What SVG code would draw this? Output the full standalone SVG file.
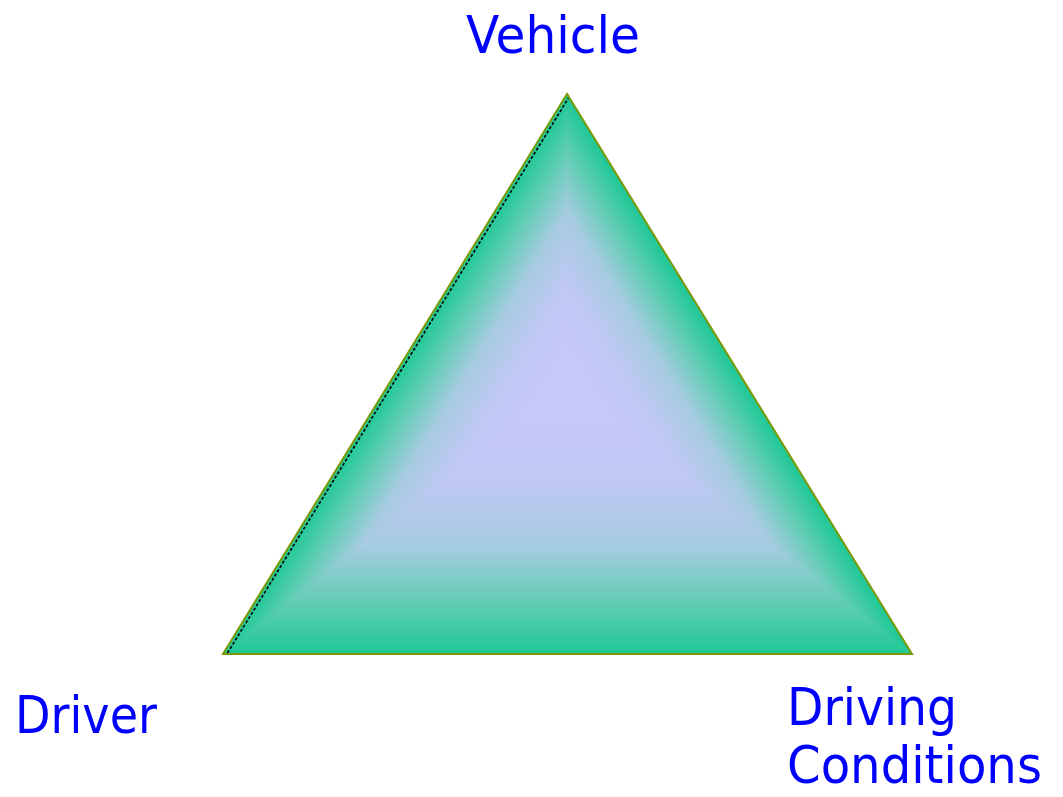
<svg xmlns="http://www.w3.org/2000/svg" width="1063" height="797" viewBox="0 0 1063 797">
<style>
.lbl{font-family:"DejaVu Sans","Verdana",sans-serif;font-size:52px;fill:#0000ff}
.part{stroke-width:1}
</style>
<defs>
<linearGradient id="gB" gradientUnits="userSpaceOnUse" x1="567" y1="385" x2="567" y2="654">
<stop offset="0" stop-color="#c9c9fb"/><stop offset="0.35" stop-color="#c0c8f4"/><stop offset="0.6" stop-color="#a6cbe0"/><stop offset="0.82" stop-color="#5ecdb2"/><stop offset="1" stop-color="#1ec896"/>
</linearGradient>
<linearGradient id="gL" gradientUnits="userSpaceOnUse" x1="567" y1="385" x2="437.6" y2="305.3">
<stop offset="0" stop-color="#c9c9fb"/><stop offset="0.35" stop-color="#c0c8f4"/><stop offset="0.6" stop-color="#a6cbe0"/><stop offset="0.82" stop-color="#5ecdb2"/><stop offset="1" stop-color="#1ec896"/>
</linearGradient>
<linearGradient id="gR" gradientUnits="userSpaceOnUse" x1="567" y1="385" x2="696.4" y2="305.3">
<stop offset="0" stop-color="#c9c9fb"/><stop offset="0.35" stop-color="#c0c8f4"/><stop offset="0.6" stop-color="#a6cbe0"/><stop offset="0.82" stop-color="#5ecdb2"/><stop offset="1" stop-color="#1ec896"/>
</linearGradient>
</defs>
<g id="triangle">
<polygon class="part" points="567,94 223,654 567,385" fill="url(#gL)" stroke="url(#gL)"/>
<polygon class="part" points="567,94 912,654 567,385" fill="url(#gR)" stroke="url(#gR)"/>
<polygon class="part" points="223,654 912,654 567,385" fill="url(#gB)" stroke="url(#gB)"/>
<line x1="227.5" y1="653" x2="568.5" y2="98" stroke="#000" stroke-width="1.6" stroke-dasharray="3 2"/>
<polygon points="567,94 223,654 912,654" fill="none" stroke="#7a9a0a" stroke-width="2"/>
</g>
<g id="vehicle"><text class="lbl" x="466" y="53" textLength="174" lengthAdjust="spacingAndGlyphs">Vehicle</text></g>
<g id="driver"><text class="lbl" x="15" y="733" textLength="142" lengthAdjust="spacingAndGlyphs">Driver</text></g>
<g id="conditions"><text class="lbl" x="787" y="725" textLength="170" lengthAdjust="spacingAndGlyphs">Driving</text><text class="lbl" x="787" y="783" textLength="255" lengthAdjust="spacingAndGlyphs">Conditions</text></g>
</svg>
